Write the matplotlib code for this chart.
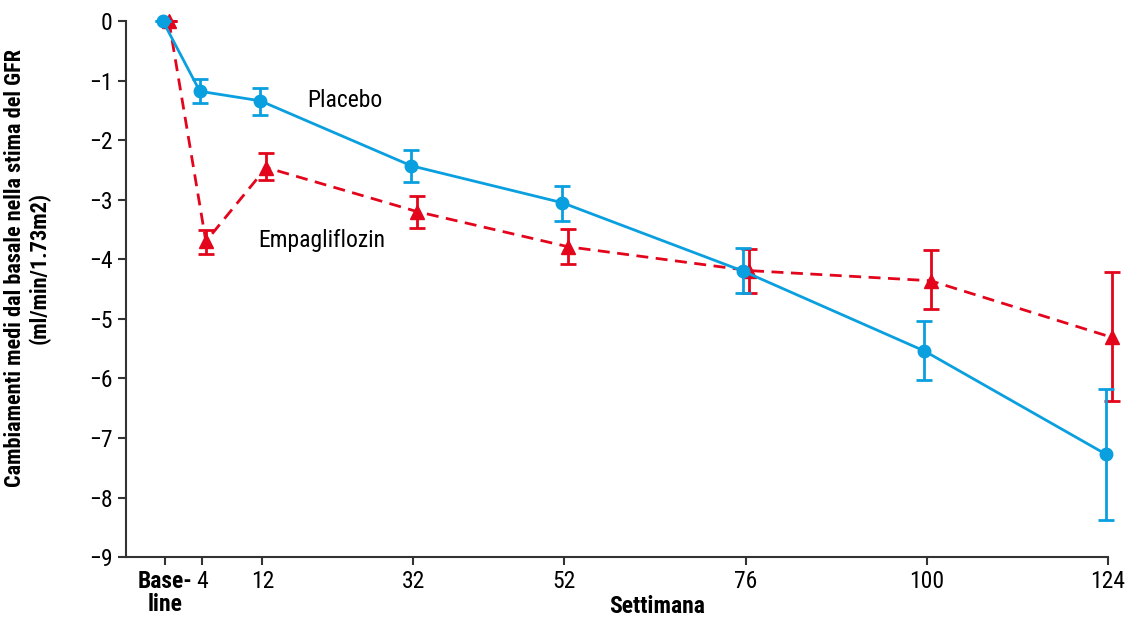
import matplotlib.pyplot as plt
import numpy as np
from matplotlib import font_manager

# weeks of follow-up (baseline = week 0)
weeks = [0, 4, 12, 32, 52, 76, 100, 124]
tick_labels = ['Base-\nline', '4', '12', '32', '52', '76', '100', '124']

# mean change in eGFR (ml/min/1.73m2) and error bar ends
placebo = [0, -1.18, -1.34, -2.43, -3.05, -4.20, -5.54, -7.27]
placebo_hi = [0, -0.97, -1.12, -2.17, -2.77, -3.81, -5.03, -6.18]
placebo_lo = [0, -1.37, -1.57, -2.71, -3.36, -4.56, -6.03, -8.38]

empa = [0, -3.70, -2.46, -3.20, -3.79, -4.19, -4.36, -5.31]
empa_hi = [0, -3.51, -2.22, -2.94, -3.49, -3.83, -3.85, -4.22]
empa_lo = [0, -3.91, -2.67, -3.47, -4.08, -4.56, -4.84, -6.38]

blue = '#0a9fdf'
red = '#e3051b'

# try to get a condensed face like the original
entries = font_manager.fontManager.ttflist
names = {f.name for f in entries}
font, stretch = 'Liberation Sans', 'normal'
for cand in ['Liberation Sans Narrow', 'Roboto Condensed', 'Open Sans Condensed',
             'Noto Sans Condensed', 'DejaVu Sans Condensed']:
    if cand in names:
        font = cand
        break
else:
    for cand in ['Noto Sans', 'DejaVu Sans', 'Roboto', 'Open Sans']:
        if any(f.name == cand and f.stretch == 'condensed' for f in entries):
            font, stretch = cand, 'condensed'
            break
plt.rcParams['font.family'] = [font, 'DejaVu Sans']
plt.rcParams['font.stretch'] = stretch
plt.rcParams['axes.unicode_minus'] = True

fs = 17

fig = plt.figure(figsize=(11.34, 6.17), dpi=100)
ax = fig.add_axes([0.111, 0.097, 0.866, 0.869])

# baseline drawn a little left of week 0, as in the original layout
x = np.array([w if w > 0 else -0.9 for w in weeks], dtype=float)
p = np.array(placebo)
e = np.array(empa)

ax.errorbar(x - 0.3, p, yerr=[p - np.array(placebo_lo), np.array(placebo_hi) - p],
            color=blue, lw=2, marker='o', ms=9, capsize=6, capthick=2,
            elinewidth=2, clip_on=False, zorder=3)
ax.errorbar(x + 0.5, e, yerr=[e - np.array(empa_lo), np.array(empa_hi) - e],
            color=red, lw=2, ls=(0, (4.3, 2.7)), marker='^', ms=10.5, capsize=6,
            capthick=2, elinewidth=2, clip_on=False, zorder=2)

ax.text(17.9, -1.34, 'Placebo', fontsize=fs, va='center', ha='left')
ax.text(11.4, -3.68, 'Empagliflozin', fontsize=fs, va='center', ha='left')

ax.set_xlim(-6.1, 124)
ax.set_ylim(-9, 0)
ax.set_yticks(range(0, -10, -1))
ax.set_yticklabels(['0'] + ['\u2212%d' % i for i in range(1, 10)])
ax.set_xticks(x)
ax.set_xticklabels(tick_labels, linespacing=1.0)
ax.get_xticklabels()[0].set_fontweight('bold')
ax.tick_params(labelsize=fs, length=6, width=1.5, color='#333333')
ax.tick_params(axis='x', pad=3)

for s in ['top', 'right']:
    ax.spines[s].set_visible(False)
for s in ['left', 'bottom']:
    ax.spines[s].set_linewidth(1.5)
    ax.spines[s].set_color('#333333')

ax.text(0.541, -0.092, 'Settimana', transform=ax.transAxes, fontsize=fs,
        fontweight='bold', ha='center', va='center')
ax.set_ylabel('Cambiamenti medi dal basale nella stima del GFR\n(ml/min/1.73m2)',
              fontsize=16, fontweight='bold', linespacing=1.1)
ax.yaxis.set_label_coords(-0.077, 0.54)

fig.savefig('out.png', dpi=100)
